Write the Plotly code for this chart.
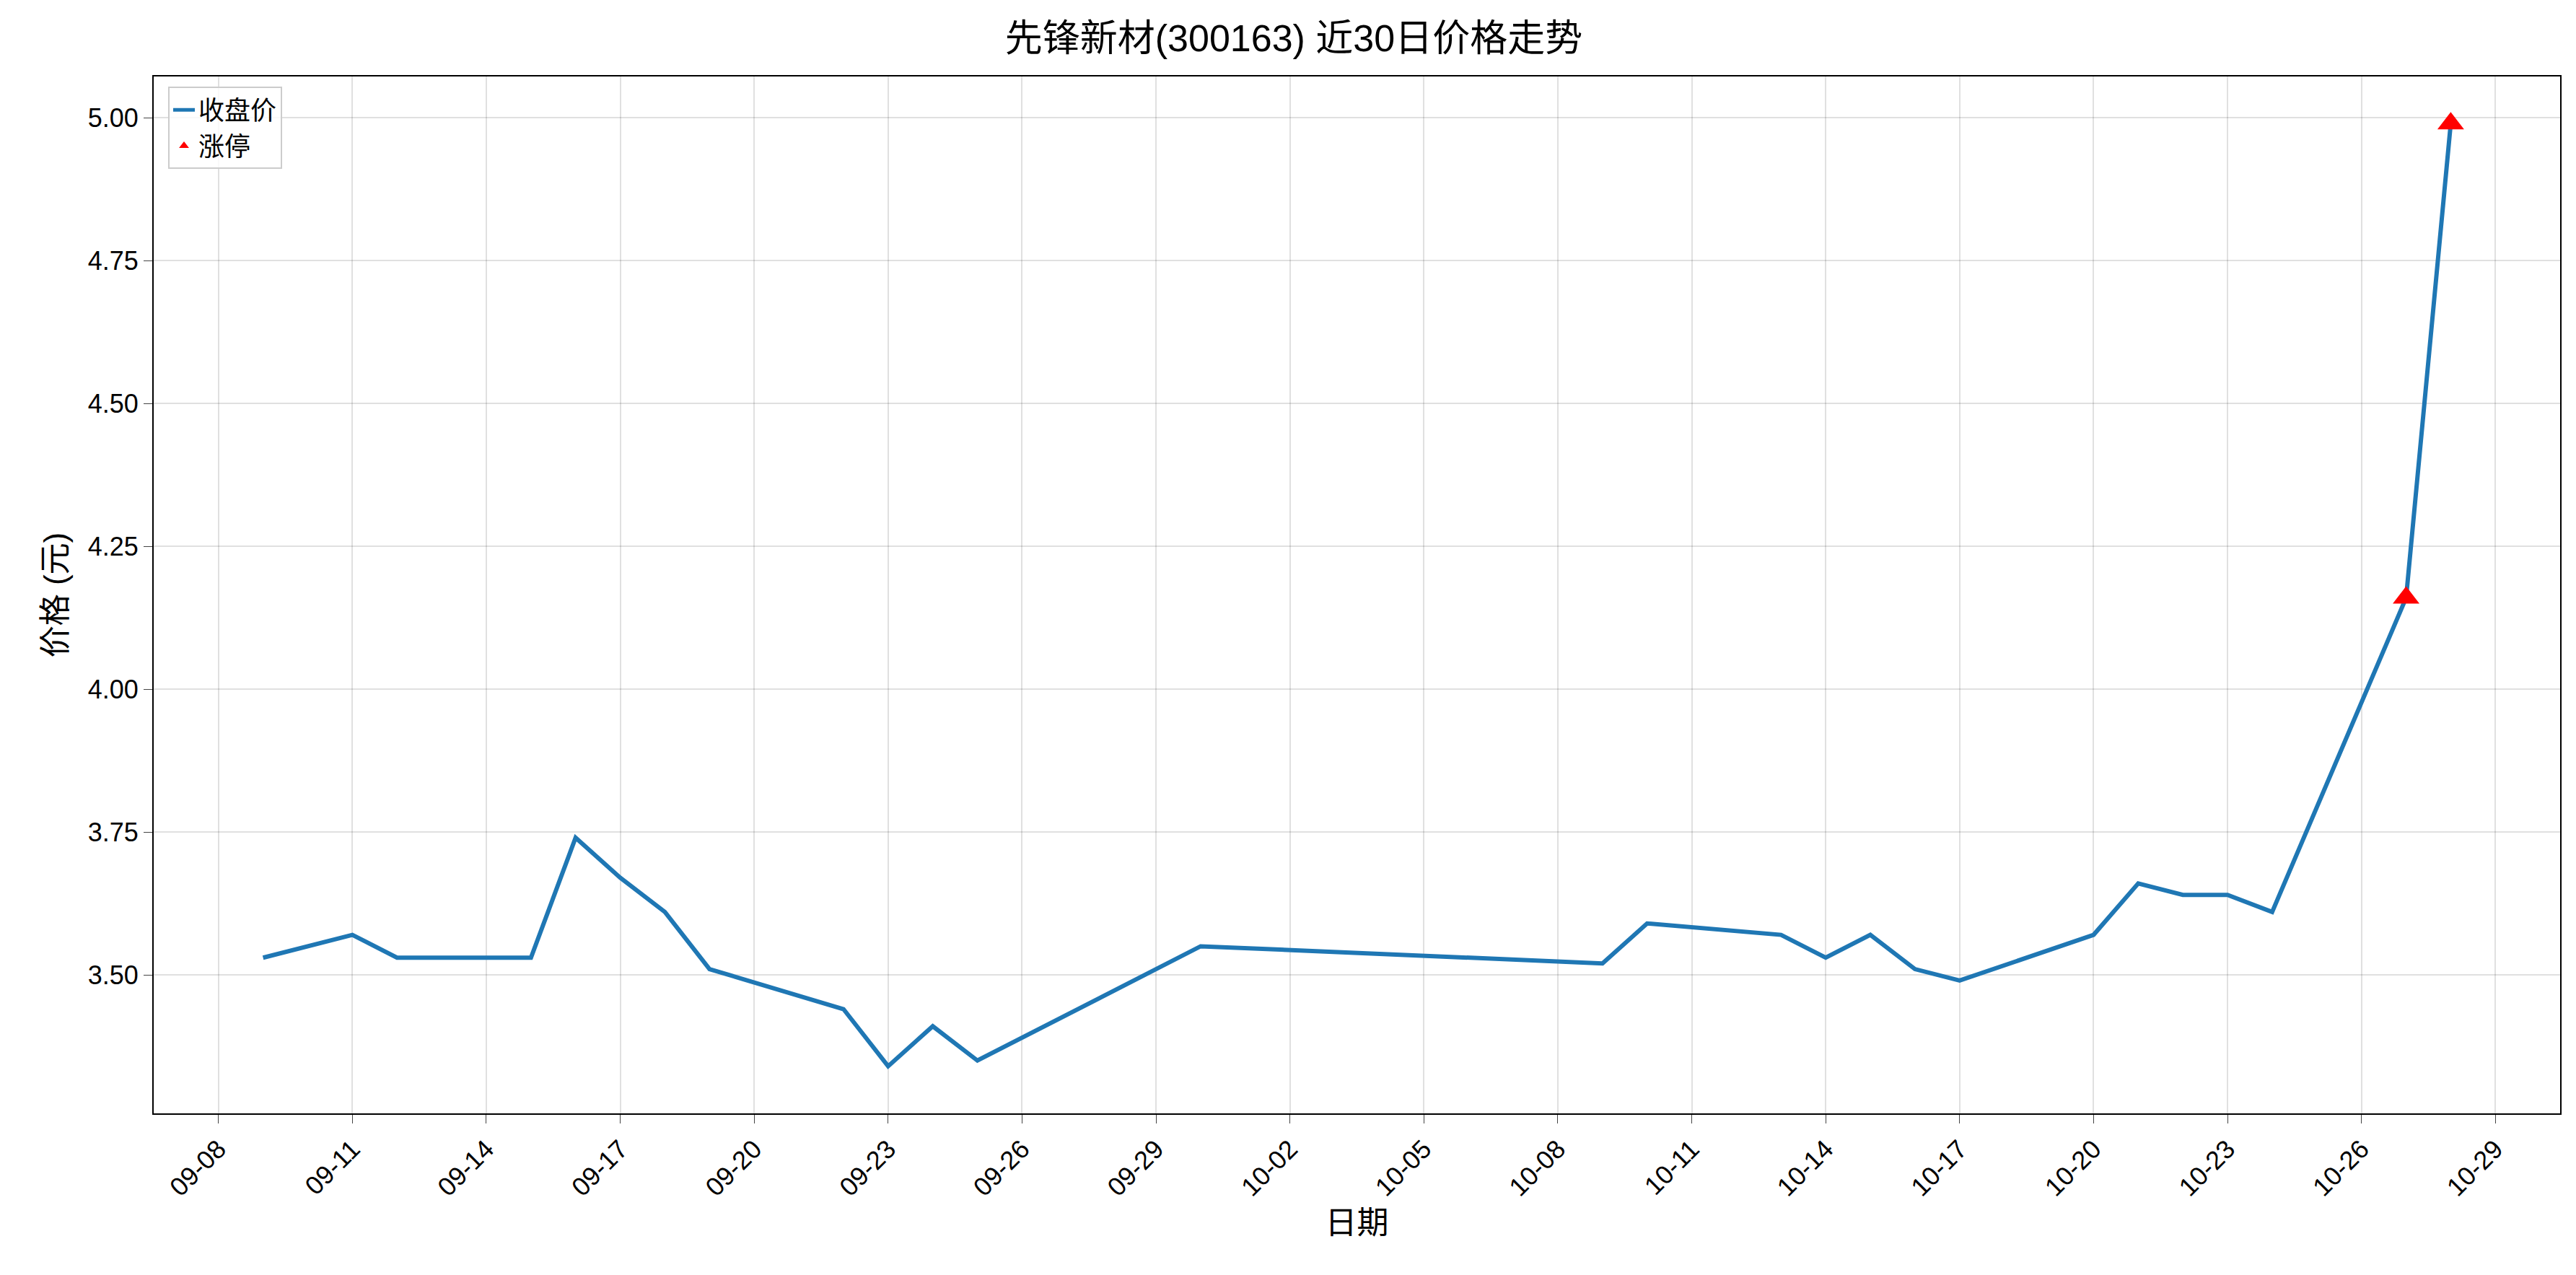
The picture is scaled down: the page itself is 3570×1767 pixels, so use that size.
import plotly.graph_objects as go
import pandas as pd

dates = ["2025-09-09","2025-09-11","2025-09-12","2025-09-15","2025-09-16","2025-09-17","2025-09-18","2025-09-19",
         "2025-09-22","2025-09-23","2025-09-24","2025-09-25","2025-09-30","2025-10-09","2025-10-10","2025-10-13",
         "2025-10-14","2025-10-15","2025-10-16","2025-10-17","2025-10-20","2025-10-21","2025-10-22","2025-10-23",
         "2025-10-24","2025-10-27","2025-10-28"]
close = [3.53,3.57,3.53,3.53,3.74,3.67,3.61,3.51,3.44,3.34,3.41,3.35,3.55,3.52,3.59,3.57,
         3.53,3.57,3.51,3.49,3.57,3.66,3.64,3.64,3.61,4.16,4.99]
limit_dates = ["2025-10-27","2025-10-28"]
limit_close = [4.16,4.99]
yticks = [3.50,3.75,4.00,4.25,4.50,4.75,5.00]

tickdates = pd.date_range("2025-09-08","2025-10-29",freq="3D")
F = "Arial, 'Noto Sans CJK SC', sans-serif"

fig = go.Figure()
fig.add_trace(go.Scatter(x=dates, y=close, mode="lines", name="收盘价",
                         line=dict(color="#1f77b4", width=6)))
fig.add_trace(go.Scatter(x=limit_dates, y=limit_close, mode="markers", name="涨停",
                         marker=dict(symbol="triangle-up", color="red", size=32)))
xr0 = pd.Timestamp("2025-09-09") - pd.Timedelta(days=2.45)
xr1 = pd.Timestamp("2025-10-28") + pd.Timedelta(days=2.45)
fig.update_layout(
    width=3570, height=1767, plot_bgcolor="white", paper_bgcolor="white",
    margin=dict(l=205, r=30, t=98, b=232),
    font=dict(family=F, size=38, color="black"),
    title=dict(text="先锋新材(300163) 近30日价格走势", x=0.5, xanchor="center", y=0.985, yanchor="top",
               font=dict(size=52)),
    legend=dict(x=0.006, y=0.99, xanchor="left", yanchor="top", bordercolor="#cccccc", borderwidth=2,
                bgcolor="rgba(255,255,255,0.8)", font=dict(size=36), itemsizing="constant"),
)
fig.update_xaxes(range=[xr0, xr1], tickvals=list(tickdates), ticktext=[d.strftime("%m-%d") for d in tickdates],
                 tickangle=-45, showgrid=True, gridcolor="rgba(0,0,0,0.12)", gridwidth=2,
                 showline=True, linecolor="black", linewidth=2, mirror=True, ticks="outside", ticklen=12,
                 title=dict(text="日期", font=dict(size=44)), tickfont=dict(size=36))
fig.update_yaxes(range=[3.2575, 5.0725], tickvals=yticks, ticktext=[f"{v:.2f}" for v in yticks],
                 showgrid=True, gridcolor="rgba(0,0,0,0.12)", gridwidth=2,
                 showline=True, linecolor="black", linewidth=2, mirror=True, ticks="outside", ticklen=12,
                 title=dict(text="价格 (元)", font=dict(size=44)), tickfont=dict(size=36), zeroline=False)
fig.write_html("out.html")
